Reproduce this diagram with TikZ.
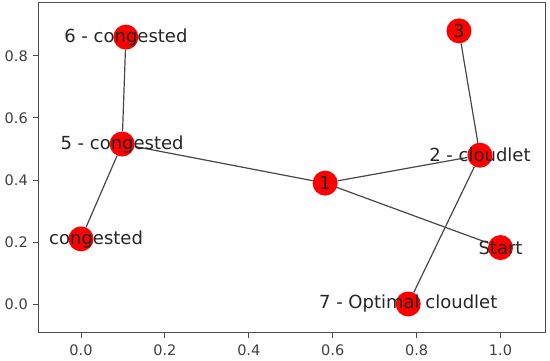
\documentclass[tikz,border=0pt]{standalone}
\usepackage{fontspec}
\setmainfont{DejaVu Sans}
\begin{document}
\begin{tikzpicture}[
  dot/.style={circle, fill=red, draw=none, minimum size=25pt, inner sep=0pt},
  lbl/.style={inner sep=0pt, text=black!85, font=\fontsize{18}{18}\selectfont},
  ticklbl/.style={inner sep=0pt, text=black!75, font=\fontsize{14.5}{14.5}\selectfont},
  edge/.style={draw=black!72, line width=1.2pt},
  spine/.style={draw=black!70, line width=1pt},
]
\useasboundingbox (0pt,0pt) rectangle (550pt,360pt);
\begin{scope}[shift={(81pt,56pt)}, x=419.5pt, y=310pt]
  % axes frame
  \draw[spine] (-0.1025,-0.0935) rectangle (1.1061,0.971);
  % x ticks
  \foreach \v/\t in {0/0.0,0.2/0.2,0.4/0.4,0.6/0.6,0.8/0.8,1.0/1.0}{
    \draw[spine] (\v,-0.0935) -- ++(0,-5pt);
    \node[ticklbl, anchor=north] (xt\t) at ([yshift=-11.5pt]\v,-0.0935) {\t};
  }
  % y ticks
  \foreach \v/\t in {0/0.0,0.2/0.2,0.4/0.4,0.6/0.6,0.8/0.8}{
    \draw[spine] (-0.1025,\v) -- ++(-5pt,0);
    \node[ticklbl, anchor=east] (yt\t) at ([xshift=-10pt]-0.1025,\v) {\t};
  }
  % nodes
  \node[dot] (n6) at (0.107,0.861) {};
  \node[dot] (n5) at (0.098,0.516) {};
  \node[dot] (n4) at (0.0,0.21) {};
  \node[dot] (n1) at (0.582,0.39) {};
  \node[dot] (n3) at (0.901,0.881) {};
  \node[dot] (n2) at (0.951,0.48) {};
  \node[dot] (nS) at (1.0,0.182) {};
  \node[dot] (n7) at (0.78,0.0) {};
  % edges
  \draw[edge] (n6) -- (n5);
  \draw[edge] (n5) -- (n4);
  \draw[edge] (n5) -- (n1);
  \draw[edge] (n1) -- (n2);
  \draw[edge] (n1) -- (nS);
  \draw[edge] (n3) -- (n2);
  \draw[edge] (n2) -- (n7);
  % labels
  \node[lbl] (l6) at (n6) {6 - congested};
  \node[lbl] (l5) at (n5) {5 - congested};
  \node[lbl, anchor=west] (l4) at ([xshift=-32pt,yshift=-1pt]n4.center) {congested};
  \node[lbl] (l1) at (n1) {1};
  \node[lbl] (l3) at (n3) {3};
  \node[lbl] (l2) at (n2) {2 - cloudlet};
  \node[lbl] (lS) at (nS) {Start};
  \node[lbl] (l7) at (n7) {7 - Optimal cloudlet};
\end{scope}
\end{tikzpicture}
\end{document}
